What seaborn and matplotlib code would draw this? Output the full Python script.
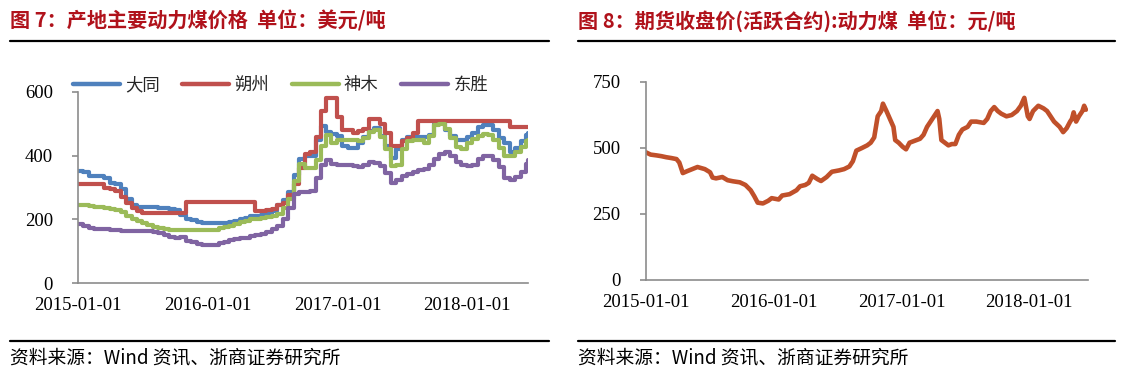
import matplotlib
matplotlib.use("Agg")
import matplotlib.pyplot as plt
import matplotlib.dates as mdates
from matplotlib.lines import Line2D
from matplotlib.font_manager import FontProperties
import seaborn as sns
import pandas as pd

# ---------------- data ----------------
# Left chart: semi-monthly readings (1st & 15th) 2015-01-01 .. 2018-06-15, plus last point
left_dates = list(pd.date_range("2015-01-01", "2018-06-15", freq="SMS")) + [pd.Timestamp("2018-06-22")]

datong = [352, 350, 335, 335, 335, 330, 315, 312, 295, 265, 245, 240, 240, 240, 238, 236, 235, 232, 230, 215, 200, 197, 192, 190,
          190, 190, 190, 190, 192, 195, 200, 205, 210, 212, 215, 220, 225, 245, 260, 285, 340, 388, 400, 400, 450, 492, 475, 468,
          462, 430, 425, 425, 440, 460, 478, 486, 462, 430, 392, 420, 450, 458, 460, 460, 460, 465, 500, 505, 480, 462, 450, 448,
          460, 470, 490, 497, 495, 482, 455, 440, 412, 425, 445, 465, 470]
shuozhou = [310, 310, 310, 310, 310, 300, 295, 290, 270, 250, 235, 225, 220, 220, 220, 220, 220, 220, 220, 220, 255, 255, 255, 255,
            255, 255, 255, 255, 255, 255, 255, 255, 255, 225, 225, 228, 232, 245, 250, 275, 310, 360, 405, 410, 460, 540, 580, 580,
            522, 480, 480, 472, 478, 485, 515, 515, 500, 470, 430, 430, 445, 455, 470, 510, 510, 510, 510, 510, 510, 510, 510, 510,
            510, 510, 510, 510, 510, 510, 510, 510, 490, 490, 490, 490, 490]
shenmu = [246, 245, 242, 240, 238, 236, 233, 230, 222, 212, 200, 195, 188, 182, 176, 172, 170, 168, 168, 168, 168, 168, 167, 166,
          165, 168, 172, 176, 180, 186, 192, 196, 200, 202, 205, 208, 210, 218, 235, 265, 320, 375, 362, 360, 385, 430, 465, 440,
          450, 450, 450, 448, 445, 455, 475, 480, 460, 420, 368, 370, 420, 445, 450, 448, 440, 462, 495, 500, 485, 455, 428, 422,
          440, 452, 462, 468, 465, 450, 425, 400, 398, 412, 428, 445, 450]
dongsheng = [186, 178, 172, 170, 170, 170, 167, 165, 163, 162, 162, 162, 162, 162, 160, 158, 150, 145, 140, 145, 132, 128, 122, 120,
             120, 120, 125, 128, 135, 137, 140, 142, 148, 150, 155, 160, 170, 180, 200, 235, 280, 285, 285, 290, 330, 370, 385, 375,
             372, 370, 370, 368, 365, 372, 380, 378, 368, 345, 315, 322, 335, 342, 350, 355, 358, 370, 390, 405, 410, 398, 380, 370,
             368, 372, 390, 400, 398, 385, 365, 330, 322, 332, 350, 375, 385]
left_names = ["大同", "朔州", "神木", "东胜"]
left_colors = ["#4F81BD", "#C0504D", "#9BBB59", "#8064A2"]

# Right chart: futures close price
right_dates = ["2015-01-01", "2015-01-15", "2015-02-01", "2015-02-15", "2015-03-01", "2015-03-15", "2015-03-30", "2015-04-07",
               "2015-04-17", "2015-04-29", "2015-05-14", "2015-05-29", "2015-06-19", "2015-07-04", "2015-07-11", "2015-07-21",
               "2015-08-08", "2015-08-23", "2015-09-07", "2015-09-27", "2015-10-13", "2015-10-28", "2015-11-07", "2015-11-17",
               "2015-12-02", "2015-12-17", "2015-12-27", "2016-01-16", "2016-01-26", "2016-02-16", "2016-03-07", "2016-03-17",
               "2016-04-01", "2016-04-11", "2016-04-21", "2016-05-06", "2016-05-16", "2016-06-01", "2016-06-16", "2016-07-06",
               "2016-07-21", "2016-08-05", "2016-08-15", "2016-08-25", "2016-09-10", "2016-09-25", "2016-10-05", "2016-10-15",
               "2016-10-25", "2016-11-04", "2016-11-09", "2016-11-19", "2016-11-29", "2016-12-09", "2016-12-14", "2016-12-24",
               "2017-01-04", "2017-01-14", "2017-01-24", "2017-02-13", "2017-02-23", "2017-03-05", "2017-03-15", "2017-03-25",
               "2017-04-04", "2017-04-14", "2017-04-19", "2017-04-25", "2017-05-05", "2017-05-15", "2017-05-25", "2017-06-04",
               "2017-06-14", "2017-06-24", "2017-07-09", "2017-07-19", "2017-08-03", "2017-08-24", "2017-09-03", "2017-09-13",
               "2017-09-23", "2017-10-03", "2017-10-13", "2017-10-28", "2017-11-12", "2017-11-27", "2017-12-08", "2017-12-18",
               "2017-12-28", "2018-01-02", "2018-01-12", "2018-01-27", "2018-02-11", "2018-02-21", "2018-03-03", "2018-03-13",
               "2018-03-29", "2018-04-08", "2018-04-18", "2018-04-28", "2018-05-03", "2018-05-08", "2018-05-15", "2018-05-23",
               "2018-06-02", "2018-06-07", "2018-06-12"]
right_values = [484, 475, 472, 469, 465, 462, 458, 445,
                405, 412, 420, 428, 420, 408, 388, 385,
                390, 378, 374, 370, 360, 340, 318, 293,
                290, 300, 310, 305, 320, 325, 340, 355,
                360, 368, 395, 382, 375, 390, 410, 415,
                420, 430, 450, 490, 500, 510, 520, 540,
                620, 640, 668, 640, 610, 580, 530, 520,
                505, 495, 520, 530, 535, 550, 580, 600,
                620, 640, 610, 530, 520, 510, 515, 515,
                550, 570, 580, 600, 600, 595, 610, 640,
                655, 640, 630, 620, 625, 640, 660, 690,
                620, 610, 640, 660, 650, 640, 620, 600,
                580, 560, 575, 600, 610, 635, 600, 620,
                640, 660, 645]
right_color = "#C0502A"

left_title = "图 7：产地主要动力煤价格  单位：美元/吨"
right_title = "图 8：期货收盘价(活跃合约):动力煤  单位：元/吨"
source_text = "资料来源：Wind 资讯、浙商证券研究所"

# ---------------- figure ----------------
sns.set_theme(style="white")
plt.rcParams["font.family"] = ["Liberation Serif", "Noto Sans CJK SC", "DejaVu Sans"]

W, H = 1124, 377
fig = plt.figure(figsize=(W / 100, H / 100), dpi=100)
fig.patch.set_facecolor("white")

def fx(px):
    return px / W

def fy(py):
    return 1 - py / H

ax1 = fig.add_axes([fx(78), fy(283), fx(528) - fx(78), fy(92) - fy(283)])
ax2 = fig.add_axes([fx(645.7), fy(280), fx(1088) - fx(645.7), fy(82) - fy(280)])

# left chart data
rows = []
for name, vals in zip(left_names, [datong, shuozhou, shenmu, dongsheng]):
    for d, v in zip(left_dates, vals):
        rows.append({"date": d, "value": v, "site": name})
df_left = pd.DataFrame(rows)

sns.lineplot(data=df_left, x="date", y="value", hue="site", hue_order=left_names,
             palette=left_colors, ax=ax1, linewidth=3.0, drawstyle="steps-post",
             legend=False, estimator=None)

df_right = pd.DataFrame({"date": pd.to_datetime(right_dates), "value": right_values})
sns.lineplot(data=df_right, x="date", y="value", ax=ax2, color=right_color,
             linewidth=3.3, estimator=None)

tick_font = FontProperties(family="Liberation Serif", size=13.5)
year_ticks = pd.to_datetime(["2015-01-01", "2016-01-01", "2017-01-01", "2018-01-01"])

for ax, ymax, ystep, xend in [(ax1, 600, 200, "2018-06-22"), (ax2, 750, 250, "2018-06-18")]:
    ax.set_facecolor("white")
    ax.set_xlim(pd.Timestamp("2015-01-01"), pd.Timestamp(xend))
    ax.set_ylim(0, ymax)
    ax.set_yticks(list(range(0, ymax + 1, ystep)))
    ax.set_xticks(year_ticks)
    ax.xaxis.set_major_formatter(mdates.DateFormatter("%Y-%m-%d"))
    ax.set_xlabel("")
    ax.set_ylabel("")
    ax.grid(False)
    for s in ["top", "right"]:
        ax.spines[s].set_visible(False)
    for s in ["left", "bottom"]:
        ax.spines[s].set_color("#8C8C8C")
        ax.spines[s].set_linewidth(1.2)
    ax.tick_params(axis="y", direction="out", length=4, width=1.2, color="#8C8C8C", pad=14, left=True)
    ax.tick_params(axis="x", length=0, pad=10)
    for lab in ax.get_xticklabels() + ax.get_yticklabels():
        lab.set_fontproperties(tick_font)
        lab.set_color("black")

# legend for left chart
handles = [Line2D([0], [0], color=c, lw=3.2) for c in left_colors]
fig.legend(handles, left_names, loc="center left", bbox_to_anchor=(fx(73), fy(85)),
           ncol=4, frameon=False, handlelength=2.7, handletextpad=0.3, columnspacing=1.3,
           borderpad=0, borderaxespad=0,
           prop=FontProperties(family="Noto Sans CJK SC", size=12.5))

# titles
title_color = "#B0121B"
fig.text(fx(10), fy(21), left_title, ha="left", va="center", color=title_color,
         fontsize=14.5, fontweight="bold", family=["Noto Sans CJK SC", "DejaVu Sans"])
fig.text(fx(578), fy(21), right_title, ha="left", va="center", color=title_color,
         fontsize=14.5, fontweight="bold", family=["Noto Sans CJK SC", "DejaVu Sans"])

# rules
for x0, x1 in [(10, 549), (578, 1115)]:
    fig.add_artist(Line2D([fx(x0), fx(x1)], [fy(41), fy(41)], color="black", lw=1.6))
    fig.add_artist(Line2D([fx(x0), fx(x1)], [fy(341), fy(341)], color="black", lw=1.6))

# sources
for x0 in [10, 578]:
    fig.text(fx(x0), fy(358), source_text, ha="left", va="center", color="black",
             fontsize=13.5, family=["Noto Sans CJK SC", "DejaVu Sans"])

fig.savefig("out.png", dpi=100, facecolor="white")
